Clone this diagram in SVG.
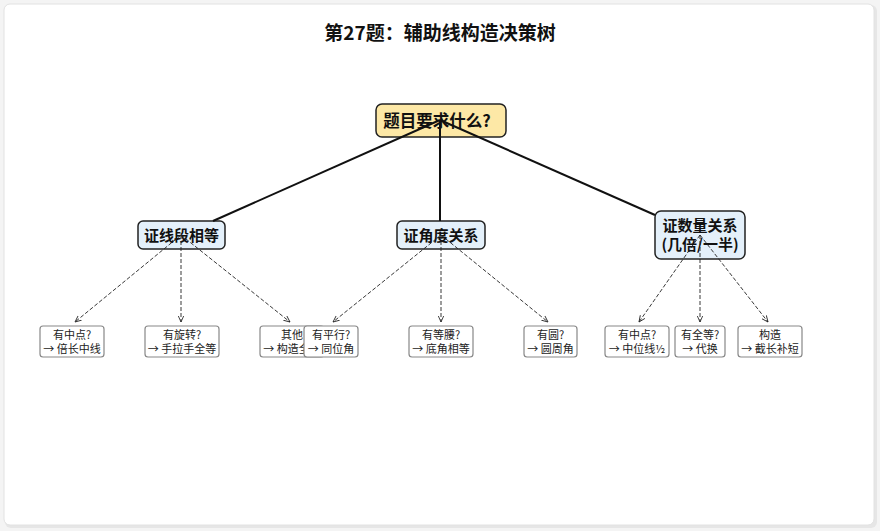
<svg xmlns="http://www.w3.org/2000/svg" width="880" height="531" viewBox="0 0 880 531">
<style>
text{font-family:"Noto Sans CJK SC","Noto Sans",sans-serif;text-anchor:middle;}
.title{font-size:19px;font-weight:bold;fill:#111;}
.root rect{fill:#fde8a6;stroke:#222;stroke-width:1.5;}
.mid rect{fill:#e4f0fa;stroke:#222;stroke-width:1.5;}
.big{font-size:15px;font-weight:bold;fill:#111;}
.leaf rect{fill:#fff;stroke:#888;stroke-width:1.2;}
.lt{font-size:11px;fill:#222;}
.solid{stroke:#111;stroke-width:2;fill:none;}
.dash{stroke:#222;stroke-width:0.9;stroke-dasharray:4 2;fill:none;marker-end:url(#ah);}
</style>
<defs>
<marker id="ah" viewBox="0 0 10 10" refX="9" refY="5" markerWidth="7" markerHeight="7" orient="auto-start-reverse" markerUnits="userSpaceOnUse">
<path d="M0,1 L9,5 L0,9" fill="none" stroke="#222" stroke-width="1.2"/>
</marker>
<clipPath id="c3"><rect x="258" y="324" width="46" height="36"/></clipPath>
</defs>
<rect x="0" y="0" width="880" height="531" fill="#f4f4f4"/>
<rect x="5" y="5" width="872" height="523" rx="6" fill="#e6e6e6"/>
<rect x="4" y="4" width="870" height="521" rx="6" fill="#fff" stroke="#e2e2e2" stroke-width="1"/>
<text class="title" x="440" y="40">第27题：辅助线构造决策树</text>

<g id="n-root" class="root">
<rect x="376" y="104" width="130" height="33" rx="6"/>
<text class="big" x="437" y="127" style="font-size:16.5px">题目要求什么?</text>
</g>
<g id="n-seg" class="mid">
<rect x="138" y="221" width="87" height="28" rx="5"/>
<text class="big" x="181.5" y="240.5">证线段相等</text>
</g>
<g id="n-ang" class="mid">
<rect x="397" y="221" width="88" height="28" rx="5"/>
<text class="big" x="441" y="240.5">证角度关系</text>
</g>
<g id="n-qty" class="mid">
<rect x="655" y="211" width="90" height="48" rx="6"/>
<text class="big" x="700" y="230.5">证数量关系</text>
<text class="big" x="700" y="250">(几倍/一半)</text>
</g>

<g id="l1" class="leaf"><rect x="40" y="326" width="64" height="31" rx="3"/><text class="lt" x="72" y="338.5">有中点?</text><text class="lt" x="72" y="353">→ 倍长中线</text></g>
<g id="l2" class="leaf"><rect x="145" y="326" width="74" height="31" rx="3"/><text class="lt" x="182" y="338.5">有旋转?</text><text class="lt" x="182" y="353">→ 手拉手全等</text></g>
<g id="l3" class="leaf"><rect x="260" y="326" width="64" height="31" rx="3"/><g clip-path="url(#c3)"><text class="lt" x="292" y="338.5">其他</text><text class="lt" x="292" y="353">→ 构造全等</text></g></g>
<g id="l4" class="leaf"><rect x="304" y="326" width="54" height="31" rx="3"/><text class="lt" x="331" y="338.5">有平行?</text><text class="lt" x="331" y="353">→ 同位角</text></g>
<g id="l5" class="leaf"><rect x="409" y="326" width="64" height="31" rx="3"/><text class="lt" x="441" y="338.5">有等腰?</text><text class="lt" x="441" y="353">→ 底角相等</text></g>
<g id="l6" class="leaf"><rect x="524" y="326" width="53" height="31" rx="3"/><text class="lt" x="550.5" y="338.5">有圆?</text><text class="lt" x="550.5" y="353">→ 圆周角</text></g>
<g id="l7" class="leaf"><rect x="605" y="326" width="64" height="31" rx="3"/><text class="lt" x="637" y="338.5">有中点?</text><text class="lt" x="637" y="353">→ 中位线½</text></g>
<g id="l8" class="leaf"><rect x="675" y="326" width="50" height="31" rx="3"/><text class="lt" x="700" y="338.5">有全等?</text><text class="lt" x="700" y="353">→ 代换</text></g>
<g id="l9" class="leaf"><rect x="738" y="326" width="64" height="31" rx="3"/><text class="lt" x="770" y="338.5">构造</text><text class="lt" x="770" y="353">→ 截长补短</text></g>

<g id="connectors">
<line class="solid" x1="440" y1="120" x2="213" y2="221"/>
<line class="solid" x1="440" y1="120" x2="440" y2="221"/>
<line class="solid" x1="440" y1="120" x2="655" y2="215"/>
<line class="dash" x1="181" y1="235" x2="75" y2="322"/>
<line class="dash" x1="181" y1="235" x2="181" y2="322"/>
<line class="dash" x1="181" y1="235" x2="290" y2="322"/>
<line class="dash" x1="441" y1="235" x2="333" y2="322"/>
<line class="dash" x1="441" y1="235" x2="441" y2="322"/>
<line class="dash" x1="441" y1="235" x2="548" y2="322"/>
<line class="dash" x1="700" y1="235" x2="639" y2="322"/>
<line class="dash" x1="700" y1="235" x2="700" y2="322"/>
<line class="dash" x1="700" y1="235" x2="768" y2="322"/>
</g>
</svg>
